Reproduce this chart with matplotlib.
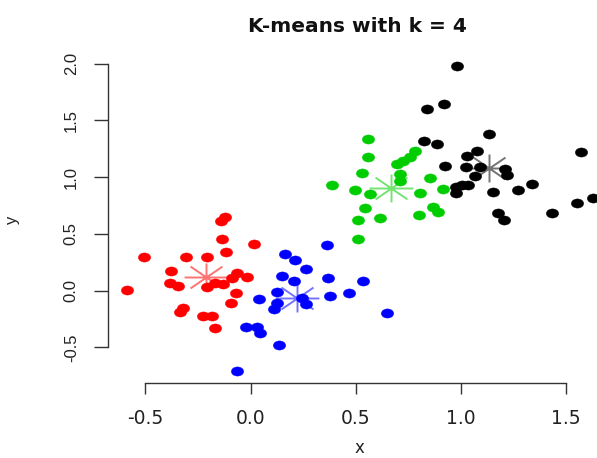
import matplotlib
matplotlib.use("Agg")
import matplotlib.pyplot as plt
from matplotlib.path import Path
from matplotlib.transforms import Affine2D

# ---- data ----
red_x = [-0.121, -0.142, -0.137, 0.018, -0.117, -0.506, -0.307, -0.208, -0.379, -0.066,
         -0.018, -0.089, -0.383, -0.343, -0.169, -0.132, -0.208, -0.589, -0.070, -0.093,
         -0.320, -0.335, -0.224, -0.184, -0.169]
red_y = [0.649, 0.614, 0.455, 0.409, 0.338, 0.300, 0.294, 0.294, 0.174, 0.159,
         0.123, 0.109, 0.065, 0.041, 0.070, 0.059, 0.030, 0.006, -0.018, -0.106,
         -0.155, -0.185, -0.220, -0.220, -0.326]

blue_x = [0.362, 0.164, 0.212, 0.264, 0.148, 0.208, 0.367, 0.536, 0.127, 0.040, 0.125,
          0.112, 0.243, 0.264, 0.378, 0.470, 0.650, -0.023, 0.032, 0.045, 0.137, -0.063]
blue_y = [0.403, 0.323, 0.270, 0.189, 0.130, 0.088, 0.109, 0.085, -0.009, -0.076, -0.106,
          -0.159, -0.067, -0.117, -0.047, -0.018, -0.194, -0.317, -0.317, -0.375, -0.476, -0.707]

green_x = [0.560, 0.560, 0.782, 0.758, 0.727, 0.695, 0.529, 0.711, 0.711, 0.854, 0.386,
           0.497, 0.568, 0.917, 0.806, 0.544, 0.869, 0.893, 0.616, 0.513, 0.803, 0.513]
green_y = [1.334, 1.181, 1.233, 1.175, 1.145, 1.114, 1.034, 1.026, 0.967, 0.990, 0.931,
           0.887, 0.852, 0.896, 0.858, 0.731, 0.735, 0.696, 0.643, 0.623, 0.667, 0.456]

black_x = [0.983, 0.841, 0.922, 1.136, 0.825, 0.888, 1.572, 1.076, 1.028, 0.925, 1.025,
           1.091, 1.210, 1.221, 1.068, 0.977, 1.004, 1.036, 0.977, 1.155, 1.273, 1.340,
           1.627, 1.551, 1.432, 1.178, 1.205]
black_y = [1.980, 1.601, 1.645, 1.381, 1.319, 1.293, 1.225, 1.233, 1.187, 1.099, 1.093,
           1.093, 1.070, 1.019, 1.011, 0.916, 0.931, 0.931, 0.863, 0.872, 0.887, 0.940,
           0.814, 0.770, 0.682, 0.687, 0.623]

centers_x = [-0.212, 0.220, 0.667, 1.133]
centers_y = [0.118, -0.067, 0.907, 1.078]

cluster_colors = ["#ff0000", "#0000ff", "#00cd00", "#000000"]

x_ticks = [-0.5, 0.0, 0.5, 1.0, 1.5]
x_tick_labels = ["-0.5", "0.0", "0.5", "1.0", "1.5"]
y_ticks = [-0.5, 0.0, 0.5, 1.0, 1.5, 2.0]
y_tick_labels = ["-0.5", "0.0", "0.5", "1.0", "1.5", "2.0"]

title = "K-means with k = 4"

# ---- markers (horizontally stretched like the reference) ----
dot = Path.unit_circle().transformed(Affine2D().scale(1.0, 0.74))
star_verts = [(-1, 0), (1, 0), (0, -0.64), (0, 0.64),
              (-0.73, -0.5), (0.73, 0.5), (-0.73, 0.5), (0.73, -0.5)]
star_codes = [Path.MOVETO, Path.LINETO] * 4
star = Path(star_verts, star_codes)

W, H = 597, 458
fig = plt.figure(figsize=(W / 100, H / 100), dpi=100)
fig.patch.set_facecolor("white")

left_px, right_px, bottom_px, top_px = 108, 597, 382.7, 55
ax = fig.add_axes([left_px / W, (H - bottom_px) / H,
                   (right_px - left_px) / W, (bottom_px - top_px) / H])

clusters = [(red_x, red_y), (blue_x, blue_y), (green_x, green_y), (black_x, black_y)]
for (xs, ys), c in zip(clusters, cluster_colors):
    ax.plot(xs, ys, linestyle="none", marker=dot, markersize=8.9,
            markerfacecolor=c, markeredgecolor=c, markeredgewidth=0.3, clip_on=False)

for cx, cy, c in zip(centers_x, centers_y, cluster_colors):
    ax.plot([cx], [cy], linestyle="none", marker=star, markersize=31.5,
            markerfacecolor="none", markeredgecolor=c, markeredgewidth=1.4,
            alpha=0.55)

ax.set_xlim(-0.6776, 1.6476)
ax.set_ylim(-0.8106, 2.0767)

for s in ["top", "right"]:
    ax.spines[s].set_visible(False)
ax.spines["left"].set_bounds(-0.5, 2.0)
ax.spines["bottom"].set_bounds(-0.5, 1.5)
for s in ["left", "bottom"]:
    ax.spines[s].set_color("#333333")
    ax.spines[s].set_linewidth(1.0)

ax.set_xticks(x_ticks)
ax.set_xticklabels(x_tick_labels, fontfamily="DejaVu Sans", fontsize=13.5, color="#222222")
ax.set_yticks(y_ticks)
ax.set_yticklabels(y_tick_labels, fontfamily="Liberation Sans", fontsize=12,
                   rotation=90, va="center", color="#222222")
ax.tick_params(axis="x", length=7.7, width=1.0, color="#333333", pad=11)
ax.tick_params(axis="y", length=10, width=1.0, color="#333333", pad=11)

fig.text(357.5 / W, (H - 32) / H, title, ha="center", va="baseline",
         fontfamily="DejaVu Sans", fontweight="bold", fontsize=14.5, color="#111111")
fig.text(13 / W, (H - 220) / H, "y", rotation=90, ha="center", va="center",
         fontfamily="Liberation Sans", fontsize=12, color="#222222")
fig.text(359 / W, 1.0 / H, "x", ha="center", va="bottom",
         fontfamily="DejaVu Sans", fontsize=12, color="#222222")

fig.savefig("out.png", dpi=100)
